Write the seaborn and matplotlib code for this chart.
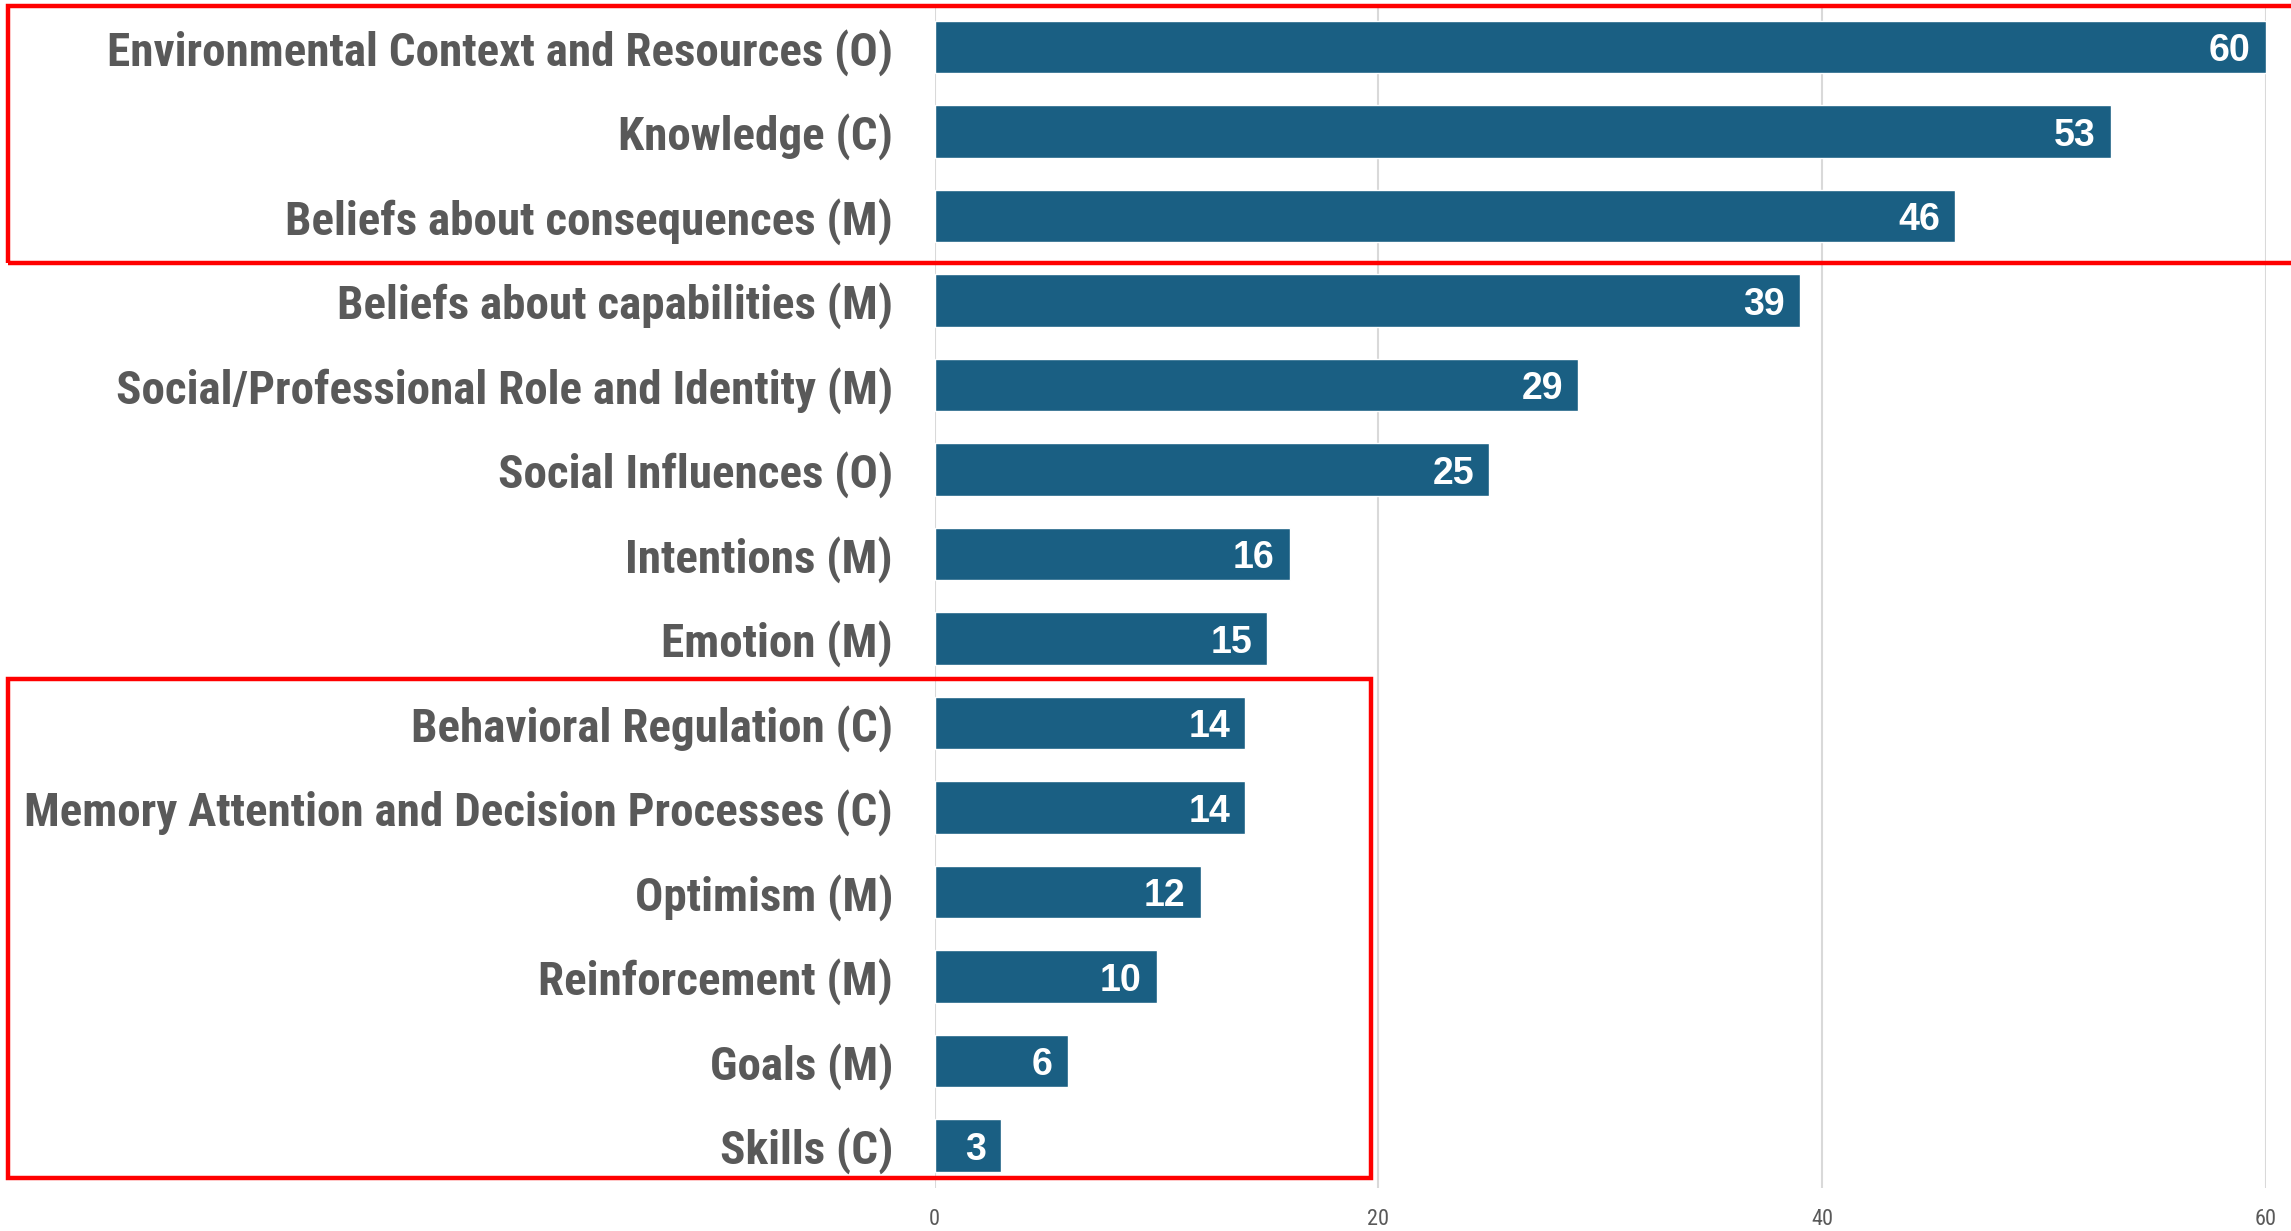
import pandas as pd
import matplotlib.pyplot as plt
import seaborn as sns
from matplotlib import font_manager as fm
from matplotlib.patches import Rectangle

# chart values
domains = ["Environmental Context and Resources (O)", "Knowledge (C)",
           "Beliefs about consequences (M)", "Beliefs about capabilities (M)",
           "Social/Professional Role and Identity (M)", "Social Influences (O)",
           "Intentions (M)", "Emotion (M)", "Behavioral Regulation (C)",
           "Memory Attention and Decision Processes (C)", "Optimism (M)",
           "Reinforcement (M)", "Goals (M)", "Skills (C)"]
counts = [60, 53, 46, 39, 29, 25, 16, 15, 14, 14, 12, 10, 6, 3]
xticks = [0, 20, 40, 60]

df = pd.DataFrame({"Domain": domains, "Count": counts})

# narrow font if there is one
installed = {f.name for f in fm.fontManager.ttflist}
narrow = next((n for n in ["Liberation Sans Narrow", "DejaVu Sans Condensed",
                           "Roboto Condensed", "Open Sans Condensed", "Arial Narrow",
                           "Roboto", "Liberation Sans"] if n in installed), "DejaVu Sans")

sns.set_theme(style="white")
plt.rcParams['font.family'] = [narrow, 'DejaVu Sans']

fig = plt.figure(figsize=(22.91, 12.31), dpi=100)
ax = fig.add_axes([0.408, 0.035, 0.581, 0.961])

sns.barplot(data=df, x="Count", y="Domain", color="#1a5f83", width=0.62,
            saturation=1, ax=ax)

ax.set_xlim(0, 60)
ax.set_ylim(13.5, -0.5)
ax.set_xticks(xticks)
ax.set_xlabel("")
ax.set_ylabel("")
sns.despine(ax=ax, left=True, bottom=True)
ax.grid(axis="x", color="#d9d9d9", linewidth=1.5)
ax.set_axisbelow(True)
ax.tick_params(axis="x", length=0, pad=15, labelsize=16, labelcolor="#595959")
ax.tick_params(axis="y", length=0, pad=30)
for lab in ax.get_yticklabels():
    lab.set_fontsize(34)
    lab.set_fontweight("bold")
    lab.set_color("#595959")

# shrink the category labels if the font is wider than the original one
fig.canvas.draw()
r = fig.canvas.get_renderer()
widest = max(lab.get_window_extent(r).width for lab in ax.get_yticklabels())
if widest > 870:
    for lab in ax.get_yticklabels():
        lab.set_fontsize(34 * 870 / widest)

# value labels inside bar ends
labels = ax.bar_label(ax.containers[0], padding=-11, color="white",
                      fontsize=27, fontweight="bold",
                      family=["Liberation Sans", "DejaVu Sans"])
for t in labels:
    t.set_ha("right")
    t.set_va("center_baseline")

# red highlight boxes
W, H = 2291, 1231
def box(x0, y0, x1, y1):
    fig.patches.append(Rectangle((x0 / W, 1 - y1 / H), (x1 - x0) / W, (y1 - y0) / H,
                                 transform=fig.transFigure, fill=False,
                                 edgecolor="#ff0000", linewidth=3.2, zorder=10))
box(8, 6, 2320, 263)
box(8, 679, 1371, 1178)

fig.savefig("out.png", dpi=100)
